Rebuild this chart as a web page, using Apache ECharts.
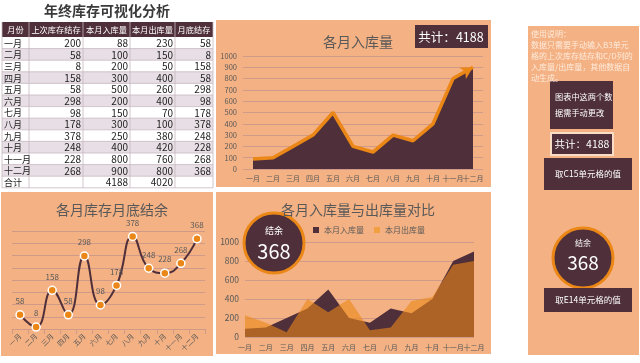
<!DOCTYPE html>
<html><head><meta charset="utf-8">
<script src="https://cdn.jsdelivr.net/npm/echarts@6/dist/echarts.min.js"></script>
<style>html,body{margin:0;padding:0;background:#fff}#c{width:640px;height:363px}</style>
</head><body><div id="c"></div>
<script>
const months = ['一月','二月','三月','四月','五月','六月','七月','八月','九月','十月','十一月','十二月'];
const prevStock = [200,58,8,158,58,298,98,178,378,248,228,268];
const inbound = [88,100,200,300,500,200,150,300,250,400,800,900];
const outbound = [230,150,50,400,260,400,70,100,380,420,760,800];
const endStock = [58,8,158,58,298,98,178,378,248,228,268,368];
const headers = ['月份','上次库存结存','本月入库量','本月出库量','月底结存'];
const totalLabel = '合计';
const inTotal = inbound.reduce((a,b)=>a+b,0);
const outTotal = outbound.reduce((a,b)=>a+b,0);
const lastEnd = endStock[endStock.length-1];

const DARK = '#4E2F3A', ORANGE = '#EB8717', PANEL = '#F4B183', GRID = '#D09A88', TXT = '#595959';
const FONT = '"Noto Sans CJK SC", sans-serif';

const chart = echarts.init(document.getElementById('c'), null, {renderer:'canvas'});
const g = [];
[[216,20,275,167],[1,192,212,164],[216,192,275,162],[528,26,111,329]].forEach(p=>{
  g.push({type:'rect', z:-10, shape:{x:p[0],y:p[1],width:p[2],height:p[3]}, style:{fill:PANEL}});
});
g.push({type:'text', z:10, style:{x:107,y:11,text:'年终库存可视化分析',fill:'#3a3a3a',font:'bold 14px '+FONT,textAlign:'center',textVerticalAlign:'middle'}});
const cx = [2,29,83,130,175,213];
const ty = 22, hh = 15, rh = 11.6;
g.push({type:'rect', z:1, shape:{x:cx[0],y:ty,width:cx[5]-cx[0],height:hh}, style:{fill:DARK}});
headers.forEach((h,i)=>{
  g.push({type:'text', z:3, style:{x:(cx[i]+cx[i+1])/2,y:ty+hh/2,text:h,fill:'#fff',font:'8.2px '+FONT,textAlign:'center',textVerticalAlign:'middle'}});
});
const rows = months.map((m,i)=>[m,prevStock[i],inbound[i],outbound[i],endStock[i]]);
rows.push([totalLabel,'',inTotal,outTotal,'']);
rows.forEach((r,ri)=>{
  const y = ty+hh+ri*rh;
  g.push({type:'rect', z:1, shape:{x:cx[0],y:y,width:cx[5]-cx[0],height:rh}, style:{fill:(ri%2===1 && ri<12)?'#E8DEE5':'#fff'}});
  r.forEach((v,ci)=>{
    if (ci===0) g.push({type:'text', z:3, style:{x:cx[0]+2,y:y+rh/2+0.5,text:String(v),fill:'#222',font:'9px '+FONT,textAlign:'left',textVerticalAlign:'middle'}});
    else g.push({type:'text', z:3, style:{x:cx[ci+1]-2,y:y+rh/2+0.5,text:String(v),fill:'#222',font:'10px '+FONT,textAlign:'right',textVerticalAlign:'middle'}});
  });
  g.push({type:'line', z:2, shape:{x1:cx[0],y1:y+rh,x2:cx[5],y2:y+rh}, style:{stroke:'#C7B7C0',lineWidth:0.8}});
});
cx.forEach((x,i)=>{
  g.push({type:'line', z:2, shape:{x1:x,y1:ty,x2:x,y2:ty+hh+13*rh}, style:{stroke:'#C7B7C0',lineWidth:0.8}});
});
g.push({type:'rect', z:5, shape:{x:415,y:25,width:73,height:23}, style:{fill:DARK}});
g.push({type:'text', z:6, style:{x:451,y:37,text:'共计：'+inTotal,fill:'#fff',font:'12.5px '+FONT,textAlign:'center',textVerticalAlign:'middle'}});
g.push({type:'circle', z:5, shape:{cx:274,cy:243,r:30}, style:{fill:DARK,stroke:ORANGE,lineWidth:3}});
g.push({type:'text', z:6, style:{x:274,y:231,text:'结余',fill:'#fff',font:'9px '+FONT,textAlign:'center',textVerticalAlign:'middle'}});
g.push({type:'text', z:6, style:{x:274,y:251,text:String(lastEnd),fill:'#fff',font:'20px '+FONT,textAlign:'center',textVerticalAlign:'middle'}});
const notes = ['使用说明：','数据只需要手动输入B3单元','格的上次库存结存和C/D列的','入库量/出库量，其他数据自','动生成。'];
notes.forEach((t,i)=>{
  g.push({type:'text', z:6, style:{x:531,y:34+i*11,text:t,fill:'#FDEBDD',font:'8px '+FONT,textAlign:'left',textVerticalAlign:'middle'}});
});
g.push({type:'rect', z:5, shape:{x:550,y:81,width:63,height:48}, style:{fill:DARK}});
g.push({type:'text', z:6, style:{x:555,y:97,text:'图表中这两个数',fill:'#fff',font:'8.2px '+FONT,textAlign:'left',textVerticalAlign:'middle'}});
g.push({type:'text', z:6, style:{x:555,y:113,text:'据需手动更改',fill:'#fff',font:'8.2px '+FONT,textAlign:'left',textVerticalAlign:'middle'}});
g.push({type:'rect', z:5, shape:{x:551,y:133,width:62,height:22}, style:{fill:DARK,stroke:'#F9DCC4',lineWidth:2}});
g.push({type:'text', z:6, style:{x:582,y:144,text:'共计：'+inTotal,fill:'#fff',font:'10.5px '+FONT,textAlign:'center',textVerticalAlign:'middle'}});
g.push({type:'rect', z:5, shape:{x:544,y:158,width:88,height:32}, style:{fill:DARK}});
g.push({type:'text', z:6, style:{x:588,y:174,text:'取C15单元格的值',fill:'#fff',font:'8.5px '+FONT,textAlign:'center',textVerticalAlign:'middle'}});
g.push({type:'circle', z:5, shape:{cx:583,cy:258,r:30}, style:{fill:DARK,stroke:ORANGE,lineWidth:3}});
g.push({type:'text', z:6, style:{x:583,y:243,text:'结余',fill:'#fff',font:'8px '+FONT,textAlign:'center',textVerticalAlign:'middle'}});
g.push({type:'text', z:6, style:{x:583,y:263,text:String(lastEnd),fill:'#fff',font:'19px '+FONT,textAlign:'center',textVerticalAlign:'middle'}});
g.push({type:'rect', z:5, shape:{x:544,y:288,width:88,height:24}, style:{fill:DARK}});
g.push({type:'text', z:6, style:{x:588,y:300,text:'取E14单元格的值',fill:'#fff',font:'8.5px '+FONT,textAlign:'center',textVerticalAlign:'middle'}});

const axLabel = {color:TXT, fontSize:7, fontFamily:FONT};
const plain = v => String(v);
const lastIdx = inbound.length-1;
const topData = inbound.map((v,i)=> i===lastIdx ? {value:v, symbol:'arrow', symbolSize:[10,12], symbolRotate:-60, itemStyle:{color:ORANGE}} : v);

chart.setOption({
  animation:false,
  textStyle:{fontFamily:FONT},
  title:[
    {text:'各月入库量', left:353, top:30, textAlign:'center', textStyle:{fontSize:14, fontWeight:'normal', color:TXT, fontFamily:FONT}},
    {text:'各月库存月底结余', left:107, top:198, textAlign:'center', textStyle:{fontSize:14, fontWeight:'normal', color:TXT, fontFamily:FONT}},
    {text:'各月入库量与出库量对比', left:353, top:198, textAlign:'center', textStyle:{fontSize:14, fontWeight:'normal', color:TXT, fontFamily:FONT}}
  ],
  legend:{data:['本月入库量','本月出库量'], left:308, top:221, itemWidth:6, itemHeight:6, itemGap:10, icon:'rect',
    textStyle:{color:TXT, fontSize:8, fontFamily:FONT}},
  graphic:g,
  grid:[
    {left:243, top:56, width:240, height:113},
    {left:12, top:231, width:193, height:98},
    {left:245, top:242, width:229, height:95}
  ],
  xAxis:[
    {gridIndex:0, type:'category', data:months, boundaryGap:true, axisLine:{show:false}, axisTick:{show:false}, axisLabel:Object.assign({margin:6, interval:0}, axLabel)},
    {gridIndex:1, type:'category', data:months, boundaryGap:true, axisLine:{lineStyle:{color:GRID}}, axisTick:{show:true, lineStyle:{color:GRID}}, axisLabel:Object.assign({margin:6, interval:0, rotate:45}, axLabel)},
    {gridIndex:2, type:'category', data:months, boundaryGap:false, axisLine:{show:false}, axisTick:{show:false}, axisLabel:Object.assign({margin:7, interval:0}, axLabel)}
  ],
  yAxis:[
    {gridIndex:0, type:'value', min:0, max:1000, interval:100, axisLine:{show:false}, axisTick:{show:false}, splitLine:{lineStyle:{color:GRID, width:1}}, axisLabel:Object.assign({margin:6, formatter:plain}, axLabel, {fontSize:7.5})},
    {gridIndex:1, type:'value', min:0, max:400, interval:50, axisLine:{show:false}, axisTick:{show:false}, splitLine:{lineStyle:{color:GRID, width:1}}, axisLabel:{show:false}},
    {gridIndex:2, type:'value', min:0, max:1000, interval:200, axisLine:{show:false}, axisTick:{show:false}, splitLine:{lineStyle:{color:GRID, width:1}}, axisLabel:Object.assign({margin:6, formatter:plain}, axLabel, {fontSize:8.5})}
  ],
  series:[
    {type:'line', xAxisIndex:0, yAxisIndex:0, data:topData, symbol:'none', showSymbol:true, lineStyle:{color:ORANGE, width:3.5}, itemStyle:{color:ORANGE},
      areaStyle:{color:DARK, opacity:1}, z:3},
    {type:'line', xAxisIndex:1, yAxisIndex:1, data:endStock, smooth:0.5, symbol:'circle', symbolSize:8,
      lineStyle:{color:DARK, width:2}, itemStyle:{color:ORANGE, borderColor:'#fff', borderWidth:1.5},
      label:{show:true, position:'top', distance:5, color:TXT, fontSize:8, fontFamily:FONT}, z:3},
    {name:'本月入库量', type:'line', xAxisIndex:2, yAxisIndex:2, data:inbound, symbol:'none', lineStyle:{width:0}, itemStyle:{color:DARK},
      areaStyle:{color:DARK, opacity:1}, z:2},
    {name:'本月出库量', type:'line', xAxisIndex:2, yAxisIndex:2, data:outbound, symbol:'none', lineStyle:{width:0}, itemStyle:{color:'#F0A040'},
      areaStyle:{color:ORANGE, opacity:0.6}, z:3}
  ]
});
</script></body></html>
